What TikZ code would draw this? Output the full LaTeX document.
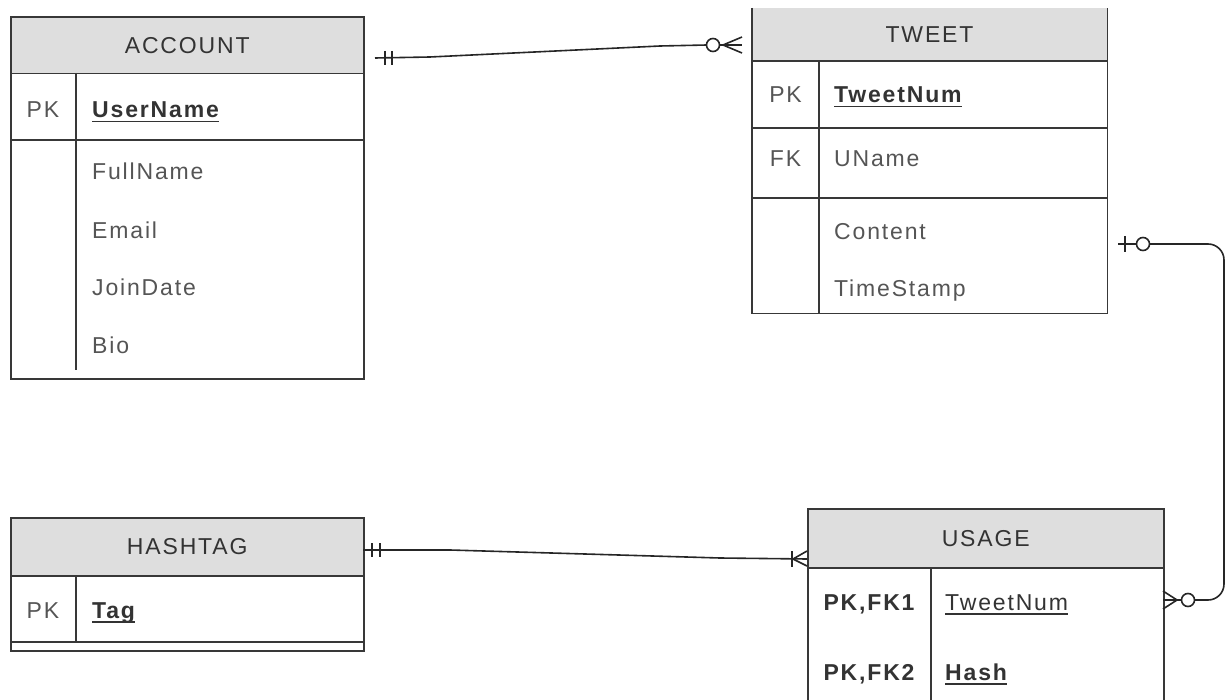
\documentclass[tikz,border=0pt]{standalone}
\usepackage{fontspec}
\setmainfont{Liberation Sans}[LetterSpace=8]
\definecolor{hdrfill}{HTML}{DEDEDE}
\definecolor{edge}{HTML}{383838}
\definecolor{txt}{HTML}{555555}
\definecolor{dtxt}{HTML}{333333}
\newcommand{\keyul}[1]{\setbox0\hbox{#1}\rlap{\rule[-4.5pt]{\wd0}{1.4pt}}\box0}
\begin{document}
\begin{tikzpicture}[x=1pt,y=-1pt,
  hdr/.style={fill=hdrfill, draw=edge, line width=1.5pt, anchor=north west, inner sep=0pt,
              text=dtxt, font=\fontsize{23}{26}\selectfont},
  outline/.style={draw=edge, line width=1.6pt, anchor=north west, inner sep=0pt},
  inner/.style={draw=edge, line width=1.3pt},
  fld/.style={anchor=base west, inner sep=0pt, text=txt, font=\fontsize{23}{26}\selectfont},
  keyfld/.style={anchor=base west, inner sep=0pt, text=dtxt, font=\fontsize{23}{26}\selectfont\bfseries},
  tag/.style={anchor=base, inner sep=0pt, text=txt, font=\fontsize{23}{26}\selectfont},
  conn/.style={draw=black!85, line width=1.6pt},
  ring/.style={draw=black!85, line width=1.6pt, fill=white}
]
\useasboundingbox (0,0) rectangle (1225,700);

% ---------------- ACCOUNT ----------------
\node[hdr, minimum width=353pt, minimum height=57pt] (accounthd) at (10,16) {ACCOUNT};
\draw[inner] (10,140) -- (363,140);
\draw[inner] (76,73) -- (76,370);
\node[outline, minimum width=353pt, minimum height=362pt] (account) at (10,16) {};
\node[tag] (accpk) at (43,118) {PK};
\node[keyfld] (accun) at (92,118) {\keyul{UserName}};
\node[fld] (accfn) at (92,180) {FullName};
\node[fld] (accem) at (92,239) {Email};
\node[fld] (accjd) at (92,296) {JoinDate};
\node[fld] (accbio) at (92,353) {Bio};

% ---------------- TWEET ----------------
\fill[hdrfill] (752,8) rectangle (1107,61);
\node[anchor=base, inner sep=0pt, text=dtxt, font=\fontsize{23}{26}\selectfont] (tweethd) at (929.5,43) {TWEET};
\draw[inner] (752,61) -- (1107,61);
\draw[inner] (752,128) -- (1107,128);
\draw[inner] (752,198) -- (1107,198);
\draw[inner] (819,61) -- (819,313);
\node[minimum width=355pt, minimum height=305pt, anchor=north west, inner sep=0pt] (tweet) at (752,8) {};
\draw[edge, line width=1.6pt] (tweet.north west) -- (tweet.south west) -- (tweet.south east) -- (tweet.north east);
\node[tag] (twpk) at (785.5,103) {PK};
\node[keyfld] (twnum) at (834,103) {\keyul{TweetNum}};
\node[tag] (twfk) at (785.5,167) {FK};
\node[fld] (twun) at (834,167) {UName};
\node[fld] (twco) at (834,240) {Content};
\node[fld] (twts) at (834,297) {TimeStamp};

% ---------------- HASHTAG ----------------
\node[hdr, minimum width=353pt, minimum height=58pt] (hashhd) at (10,517) {HASHTAG};
\draw[inner] (10,642) -- (363,642);
\draw[inner] (76,575) -- (76,642);
\node[outline, minimum width=353pt, minimum height=133pt] (hashtag) at (10,517) {};
\node[tag] (hpk) at (43,618) {PK};
\node[keyfld] (htag) at (92,618) {\keyul{Tag}};

% ---------------- USAGE ----------------
\node[hdr, minimum width=356pt, minimum height=59pt] (usagehd) at (807,508) {USAGE};
\draw[inner] (931,567) -- (931,720);
\node[outline, minimum width=356pt, minimum height=212pt] (usage) at (807,508) {};
\node[anchor=base, inner sep=0pt, text=dtxt, font=\fontsize{23}{26}\selectfont\bfseries] (upk1) at (869,610) {PK,FK1};
\node[fld, text=dtxt] (unum) at (945,610) {\keyul{TweetNum}};
\node[anchor=base, inner sep=0pt, text=dtxt, font=\fontsize{23}{26}\selectfont\bfseries] (upk2) at (869,680) {PK,FK2};
\node[keyfld] (uhash) at (945,680) {\keyul{Hash}};

% ---------------- connector ACCOUNT -- TWEET ----------------
\coordinate (c1s) at (375,58);
\coordinate (c1m1) at (430,57);
\coordinate (c1m2) at (660,46);
\coordinate (c1r) at (707,45);
\coordinate (c1f) at (723,45);
\draw[conn] (c1s) -- (c1m1) -- (c1m2) -- (c1r);
\draw[conn] (385,51) -- (385,65);
\draw[conn] (392,51) -- (392,65);
\draw[conn] (719,45) -- (723,45);
\draw[conn] (c1f) -- (742,37);
\draw[conn] (c1f) -- (742,45);
\draw[conn] (c1f) -- (742,53);
\draw[ring] (713,45) circle (6.5);

% ---------------- connector HASHTAG -- USAGE ----------------
\coordinate (c2s) at (363,550);
\coordinate (c2m1) at (450,550);
\coordinate (c2m2) at (720,558);
\coordinate (c2e) at (807,559);
\coordinate (c2f) at (793,559);
\draw[conn] (c2s) -- (c2m1) -- (c2m2) -- (c2e);
\draw[conn] (372,543) -- (372,557);
\draw[conn] (380,543) -- (380,557);
\draw[conn] (792,551) -- (792,567);
\draw[conn] (c2f) -- (807,551);
\draw[conn] (c2f) -- (807,566);

% ---------------- connector TWEET -- USAGE ----------------
\coordinate (c3s) at (1118,244);
\coordinate (c3c) at (1143,244);
\coordinate (c3ne) at (1224,244);
\coordinate (c3se) at (1224,600);
\coordinate (c3o) at (1188,600);
\coordinate (c3f) at (1177,600);
\draw[conn, rounded corners=16pt] (c3s) -- (c3ne) -- (c3se) -- (c3o);
\draw[conn] (1125,236) -- (1125,252);
\draw[ring] (c3c) circle (6.5);
\draw[conn] (c3o) -- (c3f);
\draw[conn] (c3f) -- (1163,591);
\draw[conn] (c3f) -- (1163,600);
\draw[conn] (c3f) -- (1163,609);
\draw[ring] (c3o) circle (6.5);
\end{tikzpicture}
\end{document}
